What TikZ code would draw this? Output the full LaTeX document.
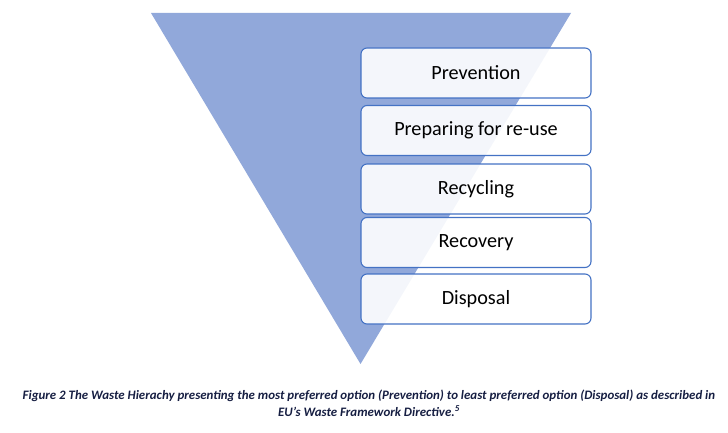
\documentclass[tikz,border=0pt]{standalone}
\usepackage{fontspec}
\setmainfont{Carlito}
\usepackage{tikz}
\usepackage{color}
\definecolor{Tri-1}{RGB}{145,168,218}
\definecolor{Box-1}{RGB}{68,114,196}
\definecolor{Cap-1}{RGB}{22,30,66}

\tikzset{
  level/.style={draw=Box-1, line width=1.1pt, fill=white, fill opacity=0.9, text opacity=1,
    rounded corners=6pt, minimum width=230pt, minimum height=50pt, text=black,
    font=\fontsize{20.2}{22}\selectfont},
  caption/.style={text=Cap-1, font=\fontsize{12.9}{17}\selectfont\bfseries\itshape, align=center}
}

\begin{document}
\begin{tikzpicture}[x=1pt, y=-1pt]
  \useasboundingbox (0, 0) rectangle (728, 433);

  \fill[Tri-1] (151, 13) -- (571, 13) -- (360.5, 364) -- cycle;

  \node[level] (prev) at (476,  73.0) {Prevention};
  \node[level] (prep) at (476, 130.5) {Preparing for re-use};
  \node[level] (recy) at (476, 189.0) {Recycling};
  \node[level] (reco) at (476, 242.5) {Recovery};
  \node[level] (disp) at (476, 299.0) {Disposal};

  \node[caption] (fig) at (369, 403) {Figure 2 The Waste Hierachy presenting the most preferred option (Prevention) to least preferred option (Disposal) as described in\\EU’s Waste Framework Directive.\textsuperscript{5}};
\end{tikzpicture}
\end{document}
